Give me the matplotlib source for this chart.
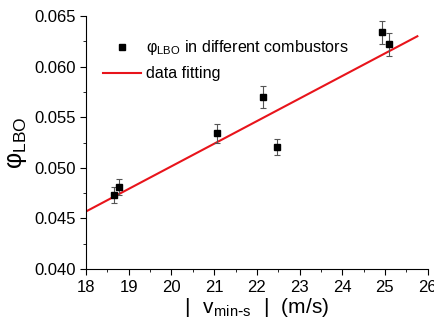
import matplotlib
matplotlib.use("Agg")
import matplotlib.pyplot as plt
from matplotlib.lines import Line2D
from matplotlib.ticker import MultipleLocator, FormatStrFormatter

plt.rcParams["font.family"] = ["Liberation Sans", "DejaVu Sans"]

# measured LBO points
v_min = [18.66, 18.78, 21.07, 22.15, 22.48, 24.93, 25.10]
phi_lbo = [0.0473, 0.0481, 0.0534, 0.0570, 0.0521, 0.0634, 0.0622]
phi_err = [0.0008, 0.0008, 0.0009, 0.00105, 0.0008, 0.00115, 0.00115]

# linear fit endpoints
fit_x = [18.0, 25.76]
fit_y = [0.0457, 0.0630]

fig = plt.figure(figsize=(4.35, 3.2), dpi=100)
ax = fig.add_axes([0.198, 0.159, 0.785, 0.791])

ax.errorbar(v_min, phi_lbo, yerr=phi_err, fmt="s", color="black", markersize=5,
            ecolor="#555555", elinewidth=0.8, capsize=2.5, capthick=0.8, zorder=3)
ax.plot(fit_x, fit_y, color="#e8141b", linewidth=1.5, zorder=2)

ax.set_xlim(18, 26)
ax.set_ylim(0.040, 0.065)
ax.xaxis.set_major_locator(MultipleLocator(1))
ax.xaxis.set_minor_locator(MultipleLocator(0.5))
ax.yaxis.set_major_locator(MultipleLocator(0.005))
ax.yaxis.set_minor_locator(MultipleLocator(0.0025))
ax.yaxis.set_major_formatter(FormatStrFormatter("%.3f"))
ax.tick_params(which="major", direction="out", length=4, labelsize=12)
ax.tick_params(which="minor", direction="out", length=2.5)

for side in ["top", "right"]:
    ax.spines[side].set_visible(False)

ax.set_xlabel(r"$\mathregular{|\ \ v_{min\text{-}s}\ \ |}$  (m/s)", fontsize=15, labelpad=1)
ax.set_ylabel(r"$\mathregular{\varphi_{LBO}}$", fontsize=18, labelpad=4)

handles = [
    Line2D([], [], marker="s", color="black", linestyle="none", markersize=5),
    Line2D([], [], color="#e8141b", linewidth=1.5),
]
labels = [r"$\mathregular{\varphi_{LBO}}$ in different combustors", "data fitting"]
ax.legend(handles, labels, loc="upper left", frameon=False, fontsize=11.6,
          bbox_to_anchor=(0.02, 0.95), handlelength=2.4, handletextpad=0.3,
          borderaxespad=0.2, labelspacing=0.55)

fig.savefig("out.png", dpi=100)
